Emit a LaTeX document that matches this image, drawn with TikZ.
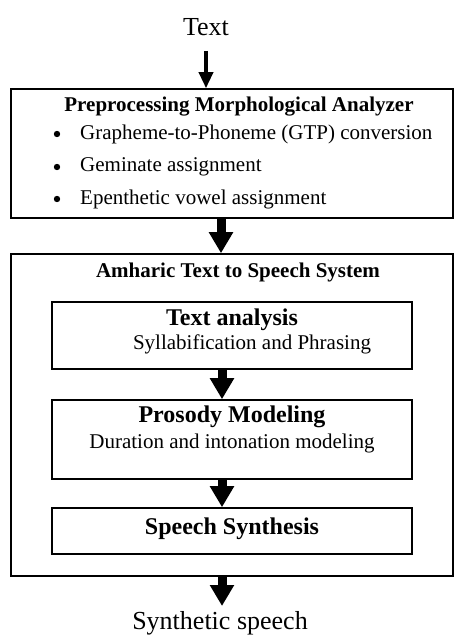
\documentclass[tikz,border=0pt]{standalone}
\usepackage{fontspec}
\setmainfont{Liberation Serif}
\usetikzlibrary{arrows.meta}
\begin{document}
\begin{tikzpicture}[x=1pt,y=-1pt,
  box/.style={draw,line width=1.6pt,inner sep=0pt},
  thinarrow/.style={line width=3.5pt,-{Triangle[width=14pt,length=16pt]}},
  fatarrow/.style={line width=9pt,-{Triangle[width=23pt,length=21pt]}},
  lbl/.style={inner sep=0pt,anchor=center},
  bodyf/.style={font=\fontsize{21}{24}\selectfont},
  headf/.style={font=\bfseries\fontsize{21}{24}\selectfont},
  bigf/.style={font=\bfseries\fontsize{24}{28}\selectfont},
  endf/.style={font=\fontsize{26}{30}\selectfont}]
\useasboundingbox (0,0) rectangle (454,636);
% top text
\node[lbl,endf] (txt) at (206,27) {Text};
% box 1
\node[box,minimum width=442pt,minimum height=129pt] (pre) at (232,153.5) {};
\node[lbl,headf] (pret) at (239,107) {Preprocessing Morphological Analyzer};
\node[lbl,anchor=west,bodyf] (b1) at (80,134) {Grapheme-to-Phoneme (GTP) conversion};
\node[lbl,anchor=west,bodyf] (b2) at (80,167) {Geminate assignment};
\node[lbl,anchor=west,bodyf] (b3) at (80,199) {Epenthetic vowel assignment};
\foreach \yy in {134,167,199}
  \fill (57,\yy) circle (3.2pt);
% box 2
\node[box,minimum width=442pt,minimum height=322pt] (ats) at (232,415) {};
\node[lbl,headf] (atst) at (238,272) {Amharic Text to Speech System};
% inner boxes
\node[box,minimum width=360pt,minimum height=67pt] (ta) at (232,335.5) {};
\node[lbl,bigf] (tat) at (232,320) {Text analysis};
\node[lbl,bodyf] (tas) at (252,344) {Syllabification and Phrasing};
\node[box,minimum width=360pt,minimum height=79pt] (pm) at (232,439.5) {};
\node[lbl,bigf] (pmt) at (232,417) {Prosody Modeling};
\node[lbl,bodyf] (pms) at (232,443) {Duration and intonation modeling};
\node[box,minimum width=360pt,minimum height=46pt] (ss) at (232,531) {};
\node[lbl,bigf] (sst) at (232,529) {Speech Synthesis};
% bottom text
\node[lbl,endf] (syn) at (220,623) {Synthetic speech};
\coordinate (a1s) at (206,51);
\coordinate (a5e) at (222,606);
% arrows
\draw[thinarrow] (a1s) -- (pre.north -| a1s);
\draw[fatarrow] (pre.south -| 221,0) -- (ats.north -| 221,0);
\draw[fatarrow] (ta.south -| 222,0) -- (pm.north -| 222,0);
\draw[fatarrow] (pm.south -| 222,0) -- (ss.north -| 222,0);
\draw[fatarrow] (ats.south -| a5e) -- (a5e);
\end{tikzpicture}
\end{document}
